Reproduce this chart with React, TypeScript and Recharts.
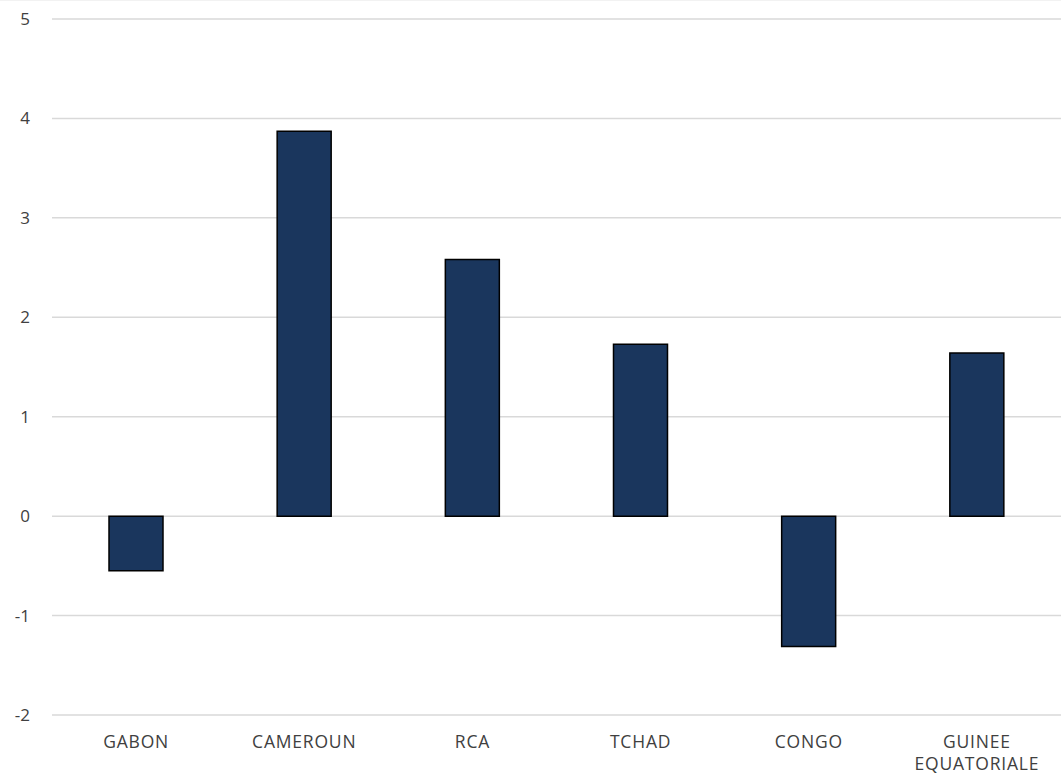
import React from 'react';
import { BarChart, Bar, XAxis, YAxis, CartesianGrid } from 'recharts';

const categories = ['GABON', 'CAMEROUN', 'RCA', 'TCHAD', 'CONGO', 'GUINEE EQUATORIALE'];
const values = [-0.55, 3.87, 2.58, 1.73, -1.31, 1.64];
const yTicks = [-2, -1, 0, 1, 2, 3, 4, 5];

const data = categories.map((c, i) => ({ name: c, value: values[i] }));

const FONT = '"Open Sans", "Noto Sans", sans-serif';

const XTick = (props: any) => {
  const { x, y, payload } = props;
  const words = String(payload.value).split(' ');
  const lines = words.length > 1 ? words : [payload.value];
  return (
    <g transform={`translate(${x},${y})`}>
      <text textAnchor="middle" fill="#404040" fontSize={17.5} letterSpacing={0.8} fontFamily={FONT}>
        {lines.map((l: string, i: number) => (
          <tspan key={i} x={0} dy={i === 0 ? 25 : 22}>{l}</tspan>
        ))}
      </text>
    </g>
  );
};

export default function App() {
  return (
    <div style={{ position: 'absolute', left: 0, top: 0, width: 1061, height: 778, background: '#fff', borderTop: '1px solid #f2f2f2' }}>
      <BarChart
        width={1061}
        height={777}
        data={data}
        margin={{ top: 18, right: 0, bottom: 0, left: 0 }}
        barCategoryGap={0}
      >
        <CartesianGrid vertical={false} stroke="#d9d9d9" strokeWidth={1.5} />
        <XAxis
          dataKey="name"
          axisLine={false}
          tickLine={false}
          height={63}
          interval={0}
          tick={<XTick />}
        />
        <YAxis
          domain={[-2, 5]}
          ticks={yTicks}
          axisLine={false}
          tickLine={false}
          tickSize={0}
          tickMargin={22}
          width={52}
          tick={{ fill: '#404040', fontSize: 17, fontFamily: FONT }}
          interval={0}
        />
        <Bar dataKey="value" fill="#1a365d" stroke="#000" strokeWidth={1.5} barSize={54} isAnimationActive={false} />
      </BarChart>
    </div>
  );
}
